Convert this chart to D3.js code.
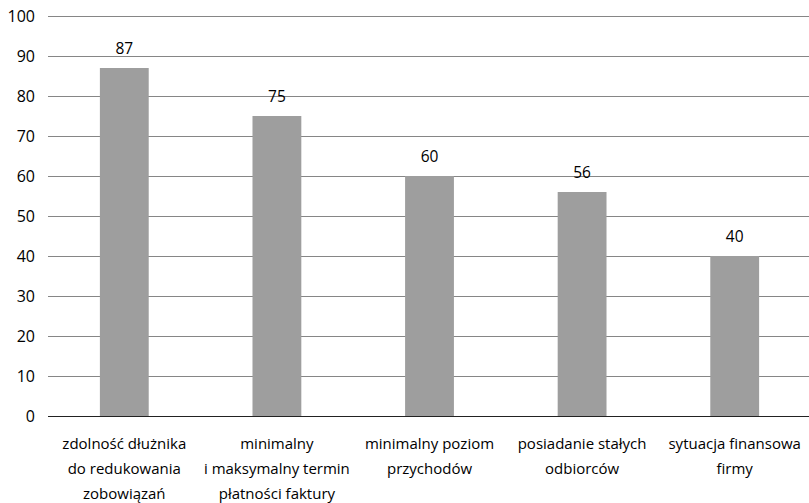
<!DOCTYPE html>
<html>
<head>
<meta charset="utf-8">
<script src="https://cdn.jsdelivr.net/npm/d3@7"></script>
<style>
  body { margin: 0; background: #fff; }
  svg { display: block; font-family: "Open Sans", sans-serif; }
</style>
</head>
<body>
<div class="chart"></div>
<script>
const categories = [
    ['zdolność dłużnika', 'do redukowania', 'zobowiązań'],
    ['minimalny', 'i maksymalny termin', 'płatności faktury'],
    ['minimalny poziom', 'przychodów'],
    ['posiadanie stałych', 'odbiorców'],
    ['sytuacja finansowa', 'firmy']
]
const values = [87, 75, 60, 56, 40]
const yTicks = [0, 10, 20, 30, 40, 50, 60, 70, 80, 90, 100]

const dim = { w: 809, h: 503, left: 48, right: 811, top: 16, bottom: 416 }

const svg = d3.select('.chart')
    .append('svg')
    .attr('width', dim.w)
    .attr('height', dim.h)

const xScale = d3.scaleBand()
    .domain(d3.range(values.length))
    .range([dim.left, dim.right])
    .paddingInner(0.68)
    .paddingOuter(0.34)

const yScale = d3.scaleLinear()
    .domain([0, 100])
    .range([dim.bottom, dim.top])

// gridlines
const yAxis = d3.axisLeft(yScale)
    .tickValues(yTicks)
    .tickSize(-(dim.w - dim.left))
    .tickPadding(13)
const gy = svg.append('g')
    .attr('transform', `translate(${dim.left},0)`)
    .call(yAxis)
gy.select('.domain').remove()
gy.selectAll('.tick line')
    .attr('stroke', '#868686')
    .attr('stroke-width', 1)
gy.selectAll('.tick text')
    .attr('font-size', 16)
    .attr('fill', '#000')
    .attr('font-family', '"Open Sans", sans-serif')

svg.selectAll('rect.bar')
    .data(values)
    .enter()
    .append('rect')
    .attr('class', 'bar')
    .attr('fill', '#9e9e9e')
    .attr('x', (d, i) => xScale(i))
    .attr('y', d => yScale(d))
    .attr('width', xScale.bandwidth())
    .attr('height', d => yScale(0) - yScale(d))

// baseline
svg.append('line')
    .attr('x1', dim.left).attr('x2', dim.w)
    .attr('y1', yScale(0) + 0.5).attr('y2', yScale(0) + 0.5)
    .attr('stroke', '#222')

// value labels
svg.selectAll('text.val')
    .data(values)
    .enter()
    .append('text')
    .attr('class', 'val')
    .attr('x', (d, i) => xScale(i) + xScale.bandwidth() / 2)
    .attr('y', d => yScale(d) - 14)
    .attr('text-anchor', 'middle')
    .attr('font-size', 15.5)
    .text(d => d)

// category labels
const lab = svg.selectAll('text.cat')
    .data(categories)
    .enter()
    .append('text')
    .attr('class', 'cat')
    .attr('text-anchor', 'middle')
    .attr('font-size', 15)
    .attr('x', (d, i) => xScale(i) + xScale.bandwidth() / 2)
    .attr('y', 449)

lab.selectAll('tspan')
    .data(d => d)
    .enter()
    .append('tspan')
    .attr('x', function () { return d3.select(this.parentNode).attr('x') })
    .attr('dy', (d, i) => i === 0 ? 0 : 25)
    .text(d => d)
</script>
</body>
</html>
